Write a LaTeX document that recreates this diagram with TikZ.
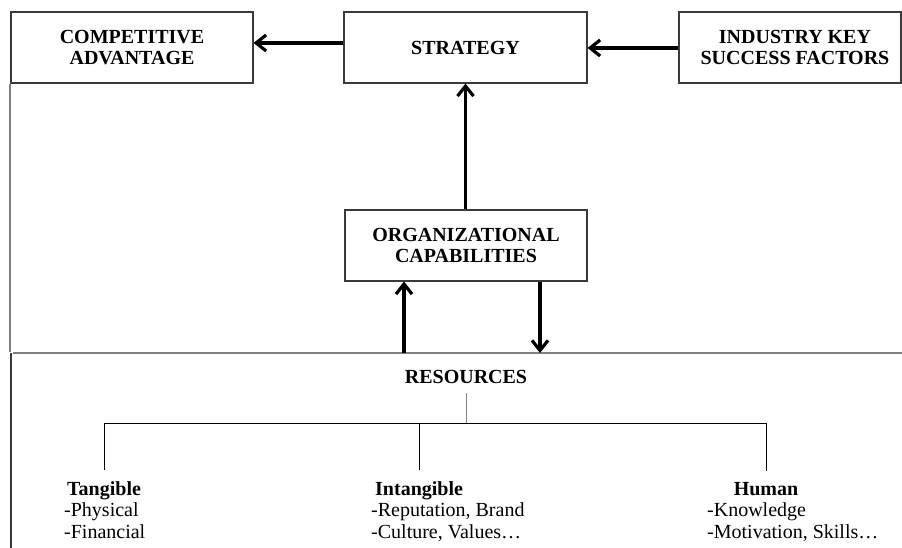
\documentclass[tikz,border=0pt]{standalone}
\usepackage{fontspec}
\setmainfont{Liberation Serif}
\usetikzlibrary{arrows.meta}
\definecolor{boxline}{HTML}{3A3A3A}
\definecolor{frameline}{HTML}{808080}
\begin{document}
\begin{tikzpicture}[x=1pt,y=1pt,
  every node/.style={font=\fontsize{20}{21.7}\selectfont},
  box/.style={draw=boxline,line width=1.1pt,minimum height=71pt,inner sep=0pt,
              align=center,font=\fontsize{20}{21.7}\selectfont\bfseries},
  flow/.style={line width=3.2pt,-{Straight Barb[length=10pt,width=16pt]}},
  frame/.style={draw=frameline,line width=1.1pt},
  branch/.style={line width=0.9pt},
  head/.style={inner sep=0pt,font=\fontsize{20}{21.7}\selectfont\bfseries},
  item/.style={inner sep=0pt,anchor=base west}]
\useasboundingbox (0,0) rectangle (902,548);

% top row
\node[box,minimum width=242pt] (ca)    at (132,500.5)   {COMPETITIVE\\ADVANTAGE};
\node[box,minimum width=243pt] (strat) at (465.5,500.5) {STRATEGY};
\node[box,minimum width=222pt] (ind)   at (790,500.5)   {\hspace*{10pt}INDUSTRY KEY\\\hspace*{10pt}SUCCESS FACTORS};

% capabilities
\node[box,minimum width=242pt] (org) at (466,302.5) {ORGANIZATIONAL\\CAPABILITIES};

% frame: left rule and the divider above the resources panel
\coordinate (divL) at (13,195);
\coordinate (divR) at (902,195);
\draw[frame] (ca.south west -| 10,0) -- (10,196);
\draw[boxline,line width=1.5pt] (11,195) -- (11,0);
\draw[frame] (divL) -- (divR);

% arrows between the boxes
\draw[flow] (strat.west |- 0,505) -- (ca.east |- 0,505);
\draw[flow] (ind.west |- 0,500) -- (strat.east |- 0,500);
\draw[flow] (org.north -| strat.south) -- (strat.south);
\coordinate (upfoot) at (404,195);
\coordinate (downfoot) at (540,195);
\draw[flow] (upfoot) -- (upfoot |- org.south);
\draw[flow] (downfoot |- org.south) -- (downfoot);

% resources tree
\node[head,anchor=base] (res) at (466,164) {RESOURCES};
\coordinate (bar) at (466,125);

\node[head,anchor=base west] (tan)   at (67,52)  {Tangible};
\node[head,anchor=base west] (intan) at (375,52) {Intangible};
\node[head,anchor=base]      (hum)   at (766,52) {Human};

\draw[frame,line width=0.9pt,shorten <=9pt] (res.south) -- (bar);
\draw[branch] (tan.north |- bar) -- (hum.north |- bar);
\foreach \b in {tan,intan,hum}
  \draw[branch,shorten >=12pt] (\b.north |- bar) -- (\b.north);

\node[item] (tan1)   at (64,31)  {-Physical};
\node[item] (tan2)   at (64,9)   {-Financial};
\node[item] (intan1) at (371,31) {-Reputation, Brand};
\node[item] (intan2) at (371,9)  {-Culture, Values…};
\node[item] (hum1)   at (707,31) {-Knowledge};
\node[item] (hum2)   at (707,9)  {-Motivation, Skills…};
\end{tikzpicture}
\end{document}
